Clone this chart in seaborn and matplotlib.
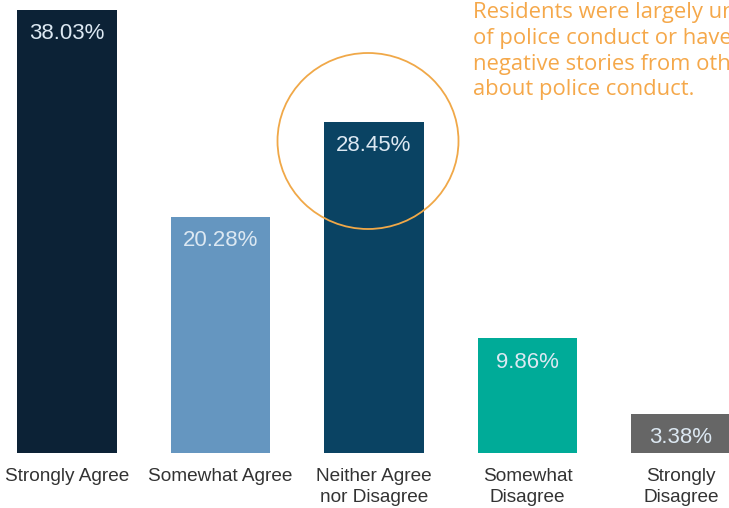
import matplotlib
matplotlib.use("Agg")
import matplotlib.pyplot as plt
from matplotlib.patches import Ellipse
import seaborn as sns
import pandas as pd

categories = ["Strongly Agree", "Somewhat Agree", "Neither Agree\nnor Disagree",
              "Somewhat\nDisagree", "Strongly\nDisagree"]
shares = [38.03, 20.28, 28.45, 9.86, 3.38]
bar_colors = ["#0c2236", "#6596c0", "#0a4363", "#00ab98", "#666666"]
note_lines = ["Residents were largely unaware",
              "of police conduct or have heard",
              "negative stories from others",
              "about police conduct."]

sns.set_theme(style="white")
plt.rcParams["font.family"] = ["Liberation Sans", "DejaVu Sans"]

df = pd.DataFrame({"category": categories, "share": shares})

W, H = 729, 508
fig = plt.figure(figsize=(W / 100, H / 100), dpi=100)
fig.patch.set_facecolor("white")
base_px = 453
ax = fig.add_axes([0, (H - base_px) / H, 1, base_px / H])
ax.set_facecolor("white")

sns.barplot(data=df, x="category", y="share", hue="category",
            palette=bar_colors, legend=False, width=0.65, ax=ax,
            saturation=1, edgecolor="none")

px_per_unit = 153.5
ax.set_xlim(-67 / px_per_unit, (W - 67) / px_per_unit)
ax.set_ylim(0, base_px / 11.65)

for s in ax.spines.values():
    s.set_visible(False)
ax.set_yticks([])
ax.set_ylabel("")
ax.set_xlabel("")
ax.set_xticks(range(len(categories)))
ax.set_xticklabels(categories, fontsize=13.7, color="#333333", linespacing=1.25)
ax.tick_params(axis="x", length=0, pad=11)

for i, v in enumerate(shares):
    ax.annotate(f"{v:.2f}%", xy=(i, v), xytext=(0, -24), textcoords="offset pixels",
                ha="center", va="center", fontsize=16, color="#dce8f2")

# highlight ring around the neutral response
ring = Ellipse((368 / W, 1 - 141 / H), 181 / W, 176 / H, transform=fig.transFigure,
               fill=False, edgecolor="#f0a848", linewidth=1.3, zorder=5)
fig.add_artist(ring)

fig.text(473 / W, 1 - 2 / H, "\n".join(note_lines), ha="left", va="top",
         fontsize=15.8, color="#f5a84a", family=["Open Sans", "DejaVu Sans"],
         linespacing=1.3)

fig.savefig("out.png", dpi=100)
